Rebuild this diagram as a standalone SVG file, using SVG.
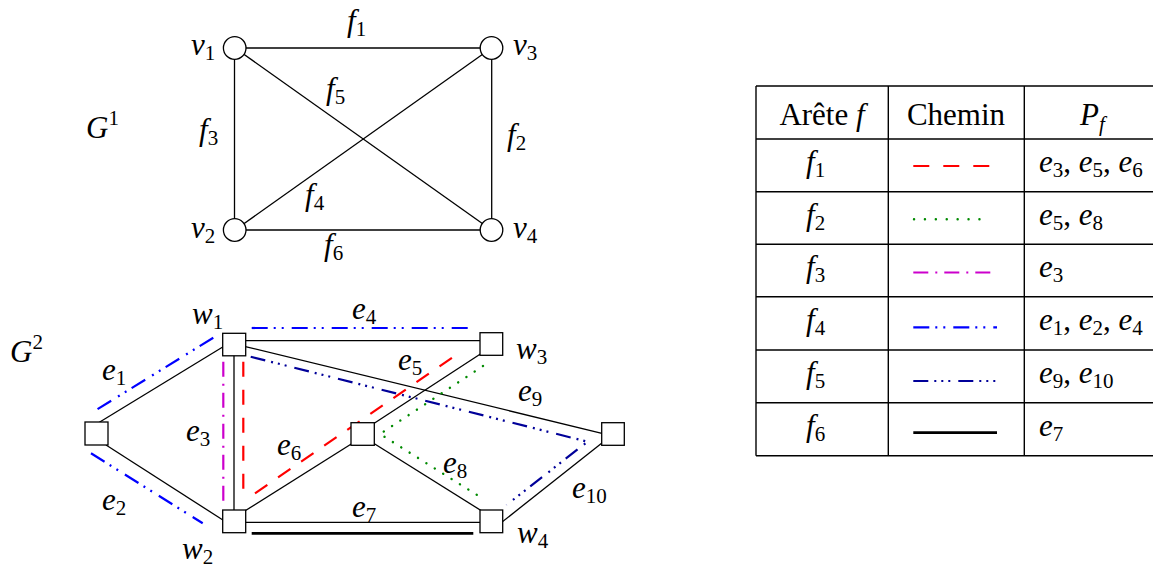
<svg xmlns="http://www.w3.org/2000/svg" width="1153" height="567" viewBox="0 0 1153 567">
<style>
text{font-family:"Liberation Serif",serif;font-size:31px;fill:#000}
.m{font-style:italic}
.s{font-style:normal;font-size:21px}
.si{font-style:italic;font-size:21px}
.n{font-style:normal}
.e{stroke:#000;stroke-width:1.3;fill:none}
.c{fill:#fff;stroke:#000;stroke-width:1.3}
.b{fill:#fff;stroke:#000;stroke-width:1.3}
.t{stroke:#000;stroke-width:1.4;fill:none}
.pf1{stroke:#ff0000;stroke-width:2.2;fill:none;stroke-dasharray:15 13}
.pf2{stroke:#008a00;stroke-width:2.4;fill:none;stroke-dasharray:0.1 9.8;stroke-linecap:round}
.pf3{stroke:#cc00cc;stroke-width:2.2;fill:none;stroke-dasharray:15 7 2 7}
.pf4{stroke:#0000ff;stroke-width:2.2;fill:none;stroke-dasharray:16 6 2 6 2 8}
.pf5{stroke:#000099;stroke-width:2.2;fill:none;stroke-dasharray:15 6 2 5 2 5 2 8}
.pf6{stroke:#000;stroke-width:2.8;fill:none}
</style>

<!-- G1 -->
<g id="g1-edges">
<line class="e" x1="235" y1="48" x2="491.5" y2="48"/>
<line class="e" x1="235" y1="230" x2="491.5" y2="230"/>
<line class="e" x1="234.5" y1="48" x2="234.5" y2="230"/>
<line class="e" x1="491.7" y1="48" x2="491.7" y2="230"/>
<line class="e" x1="235" y1="48" x2="491.5" y2="230"/>
<line class="e" x1="235" y1="230" x2="491.5" y2="48"/>
</g>
<g id="v1"><circle class="c" cx="234.7" cy="48" r="11.3"/></g>
<g id="v3"><circle class="c" cx="491.5" cy="48" r="11.3"/></g>
<g id="v2"><circle class="c" cx="234.7" cy="230" r="11.3"/></g>
<g id="v4"><circle class="c" cx="491.5" cy="230" r="11.3"/></g>
<g id="g1-labels">
<text class="m" x="86" y="138">G<tspan class="s" dy="-13">1</tspan></text>
<text class="m" x="347" y="31">f<tspan class="s" dy="5">1</tspan></text>
<text class="m" x="191" y="55">v<tspan class="s" dy="5">1</tspan></text>
<text class="m" x="513" y="55">v<tspan class="s" dy="5">3</tspan></text>
<text class="m" x="326" y="99">f<tspan class="s" dy="5">5</tspan></text>
<text class="m" x="199" y="140">f<tspan class="s" dy="5">3</tspan></text>
<text class="m" x="507" y="145">f<tspan class="s" dy="5">2</tspan></text>
<text class="m" x="305" y="205">f<tspan class="s" dy="5">4</tspan></text>
<text class="m" x="191" y="238">v<tspan class="s" dy="5">2</tspan></text>
<text class="m" x="513" y="238">v<tspan class="s" dy="5">4</tspan></text>
<text class="m" x="324" y="255">f<tspan class="s" dy="5">6</tspan></text>
</g>

<!-- G2 -->
<g id="connectors">
<line class="e" x1="96.5" y1="424" x2="226" y2="345"/>
<line class="e" x1="106" y1="445" x2="226" y2="522"/>
<line class="e" x1="234" y1="350" x2="234" y2="515"/>
<line class="e" x1="240" y1="340.7" x2="485" y2="340.7"/>
<line class="e" x1="240" y1="514" x2="356" y2="441"/>
<line class="e" x1="370" y1="426" x2="485" y2="351"/>
<line class="e" x1="370" y1="441" x2="485" y2="513"/>
<line class="e" x1="240" y1="522.3" x2="485" y2="522.3"/>
<line class="e" x1="240" y1="345.3" x2="606" y2="434.3"/>
<line class="e" x1="497" y1="526" x2="607" y2="439"/>
</g>
<g id="paths">
<polyline class="pf1" points="243.3,361.7 243.3,498.3"/>
<line class="pf1" x1="255" y1="493.3" x2="458.5" y2="353.3"/>
<polyline class="pf2" points="483,366 380,434 485,500"/>
<line class="pf3" x1="223.3" y1="361.7" x2="223.3" y2="503.3"/>
<line class="pf4" x1="213.3" y1="337.7" x2="95" y2="410.7"/>
<line class="pf4" x1="91" y1="453.3" x2="202.7" y2="523.3"/>
<line class="pf4" x1="251.7" y1="328" x2="471.7" y2="328"/>
<polyline class="pf5" points="250.7,356.7 587.5,441.7 506.5,505"/>
<line class="pf6" x1="251.7" y1="533.3" x2="473.3" y2="533.3"/>
</g>
<g id="w1"><rect class="b" x="222.7" y="333.3" width="23" height="22.5"/></g>
<g id="u1"><rect class="b" x="85" y="422" width="23" height="23"/></g>
<g id="w2"><rect class="b" x="222.7" y="510" width="23" height="22.7"/></g>
<g id="u2"><rect class="b" x="351" y="422.7" width="23.3" height="22.6"/></g>
<g id="w3"><rect class="b" x="480" y="332.7" width="22.7" height="22.6"/></g>
<g id="w4"><rect class="b" x="480" y="510" width="22.7" height="22.7"/></g>
<g id="u3"><rect class="b" x="601.7" y="422.7" width="22.6" height="22.6"/></g>
<g id="g2-labels">
<text class="m" x="10" y="362">G<tspan class="s" dy="-13">2</tspan></text>
<text class="m" x="192" y="324">w<tspan class="s" dy="5">1</tspan></text>
<text class="m" x="102" y="380">e<tspan class="s" dy="5">1</tspan></text>
<text class="m" x="186" y="441">e<tspan class="s" dy="5">3</tspan></text>
<text class="m" x="102" y="510">e<tspan class="s" dy="5">2</tspan></text>
<text class="m" x="182" y="559">w<tspan class="s" dy="5">2</tspan></text>
<text class="m" x="277" y="455">e<tspan class="s" dy="5">6</tspan></text>
<text class="m" x="352" y="319">e<tspan class="s" dy="5">4</tspan></text>
<text class="m" x="398" y="370">e<tspan class="s" dy="5">5</tspan></text>
<text class="m" x="516" y="359">w<tspan class="s" dy="5">3</tspan></text>
<text class="m" x="518" y="401">e<tspan class="s" dy="5">9</tspan></text>
<text class="m" x="443" y="473">e<tspan class="s" dy="5">8</tspan></text>
<text class="m" x="572" y="498">e<tspan class="s" dy="5">10</tspan></text>
<text class="m" x="352" y="517">e<tspan class="s" dy="5">7</tspan></text>
<text class="m" x="517" y="543">w<tspan class="s" dy="5">4</tspan></text>
</g>

<!-- Table -->
<g id="table">
<line class="t" x1="756" y1="86" x2="1153" y2="86"/>
<line class="t" x1="756" y1="139" x2="1153" y2="139"/>
<line class="t" x1="756" y1="191.7" x2="1153" y2="191.7"/>
<line class="t" x1="756" y1="244.3" x2="1153" y2="244.3"/>
<line class="t" x1="756" y1="296.7" x2="1153" y2="296.7"/>
<line class="t" x1="756" y1="350" x2="1153" y2="350"/>
<line class="t" x1="756" y1="402.7" x2="1153" y2="402.7"/>
<line class="t" x1="756" y1="455.7" x2="1153" y2="455.7"/>
<line class="t" x1="756" y1="86" x2="756" y2="455.7"/>
<line class="t" x1="888.3" y1="86" x2="888.3" y2="455.7"/>
<line class="t" x1="1024.3" y1="86" x2="1024.3" y2="455.7"/>
</g>
<g id="table-text">
<text x="822" y="125" text-anchor="middle">Arête <tspan class="m">f</tspan></text>
<text x="956" y="125" text-anchor="middle">Chemin</text>
<text class="m" x="1080" y="125">P<tspan class="si" dy="6">f</tspan></text>
<text class="m" x="806" y="172">f<tspan class="s" dy="5">1</tspan></text>
<text class="m" x="806" y="225">f<tspan class="s" dy="5">2</tspan></text>
<text class="m" x="806" y="277">f<tspan class="s" dy="5">3</tspan></text>
<text class="m" x="806" y="330">f<tspan class="s" dy="5">4</tspan></text>
<text class="m" x="806" y="383">f<tspan class="s" dy="5">5</tspan></text>
<text class="m" x="806" y="436">f<tspan class="s" dy="5">6</tspan></text>
<text class="m" x="1039" y="172">e<tspan class="s" dy="5">3</tspan><tspan class="n" dy="-5">, </tspan>e<tspan class="s" dy="5">5</tspan><tspan class="n" dy="-5">, </tspan>e<tspan class="s" dy="5">6</tspan></text>
<text class="m" x="1039" y="225">e<tspan class="s" dy="5">5</tspan><tspan class="n" dy="-5">, </tspan>e<tspan class="s" dy="5">8</tspan></text>
<text class="m" x="1039" y="277">e<tspan class="s" dy="5">3</tspan></text>
<text class="m" x="1039" y="330">e<tspan class="s" dy="5">1</tspan><tspan class="n" dy="-5">, </tspan>e<tspan class="s" dy="5">2</tspan><tspan class="n" dy="-5">, </tspan>e<tspan class="s" dy="5">4</tspan></text>
<text class="m" x="1039" y="383">e<tspan class="s" dy="5">9</tspan><tspan class="n" dy="-5">, </tspan>e<tspan class="s" dy="5">10</tspan></text>
<text class="m" x="1039" y="436">e<tspan class="s" dy="5">7</tspan></text>
</g>
<g id="legend">
<line class="pf1" x1="913.3" y1="166" x2="989.3" y2="166" style="stroke-dasharray:16 14"/>
<line class="pf2" x1="914" y1="219.3" x2="990" y2="219.3" style="stroke-dasharray:0.1 10.8"/>
<line class="pf3" x1="913.3" y1="272.5" x2="995" y2="272.5" style="stroke-dasharray:15 7 2 7"/>
<line class="pf4" x1="913.3" y1="327.3" x2="997" y2="327.3"/>
<line class="pf5" x1="913.3" y1="381" x2="996" y2="381"/>
<line class="pf6" x1="913.3" y1="432.7" x2="997" y2="432.7"/>
</g>
</svg>
